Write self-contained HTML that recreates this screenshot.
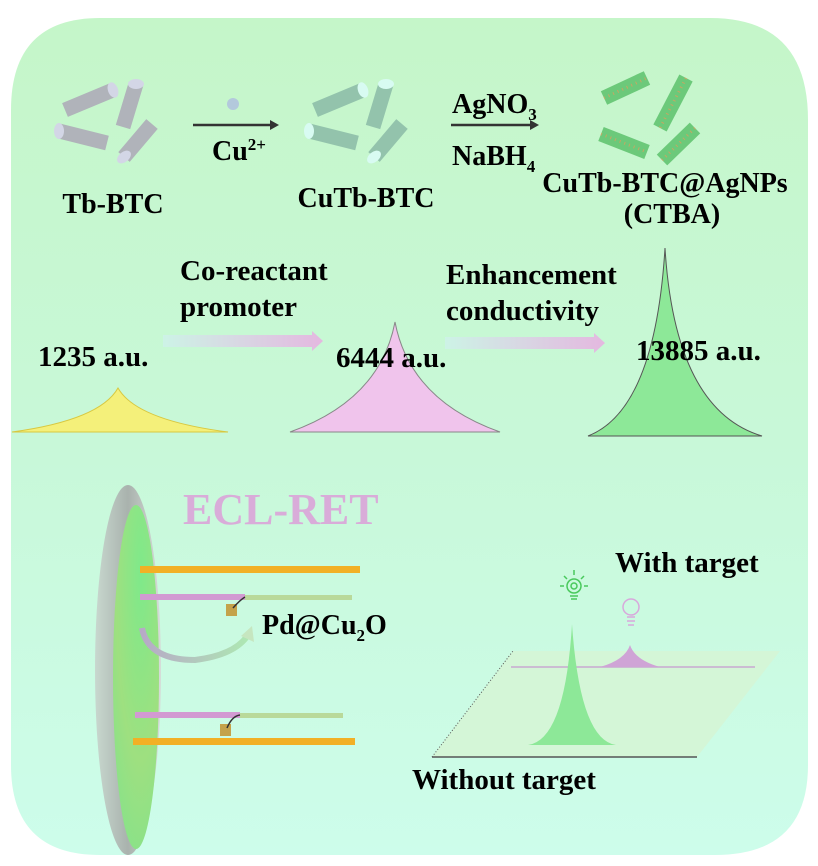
<!DOCTYPE html>
<html><head><meta charset="utf-8"><style>
html,body{margin:0;padding:0;background:#fff}
svg{display:block}
text{font-family:"Liberation Serif",serif;font-weight:bold;fill:#000}
</style></head><body>
<svg width="818" height="866" viewBox="0 0 818 866" xmlns="http://www.w3.org/2000/svg">
<defs>
<linearGradient id="bg" x1="0" y1="0" x2="0" y2="1"><stop offset="0" stop-color="#c5f6c9"/><stop offset="0.5" stop-color="#c8f8d8"/><stop offset="1" stop-color="#cdfdeb"/></linearGradient>
<linearGradient id="ar1" x1="0" x2="1"><stop offset="0" stop-color="#cdf3e6"/><stop offset="1" stop-color="#e4b8e0"/></linearGradient>
<linearGradient id="elec" x1="0" x2="1"><stop offset="0" stop-color="#c8d8cf"/><stop offset="0.5" stop-color="#a9b2ad"/><stop offset="1" stop-color="#d6dcd8"/></linearGradient>
<radialGradient id="disk" cx="0.6" cy="0.2" r="0.9"><stop offset="0" stop-color="#7fe98a"/><stop offset="0.6" stop-color="#9ee080"/><stop offset="1" stop-color="#86e28a"/></radialGradient>
<linearGradient id="curv" x1="0" x2="1"><stop offset="0" stop-color="#b7a9c7"/><stop offset="1" stop-color="#aee8b3"/></linearGradient>
</defs>
<path d="M100 18 H710 Q808 18 808 120 V765 Q808 855 715 855 H100 Q11 855 11 765 V110 Q11 18 100 18 Z" fill="url(#bg)"/>

<g stroke-linecap="butt">
<g stroke="#b0b3ba" stroke-width="15">
<line x1="65" y1="110" x2="113" y2="90"/><line x1="136" y1="84" x2="123" y2="127"/><line x1="59" y1="131" x2="107" y2="143"/><line x1="152" y1="124" x2="124" y2="157"/>
</g>
<g fill="#d3d6e6"><ellipse cx="113" cy="90" rx="5" ry="8" transform="rotate(-20 113 90)"/><ellipse cx="136" cy="84" rx="8" ry="5"/><ellipse cx="59" cy="131" rx="5" ry="8"/><ellipse cx="124" cy="157" rx="8" ry="5" transform="rotate(-40 124 157)"/></g>
<g stroke="#93c3ac" stroke-width="15">
<line x1="315" y1="110" x2="363" y2="90"/><line x1="386" y1="84" x2="373" y2="127"/><line x1="309" y1="131" x2="357" y2="143"/><line x1="402" y1="124" x2="374" y2="157"/>
</g>
<g fill="#d8fbf2"><ellipse cx="363" cy="90" rx="5" ry="8" transform="rotate(-20 363 90)"/><ellipse cx="386" cy="84" rx="8" ry="5"/><ellipse cx="309" cy="131" rx="5" ry="8"/><ellipse cx="374" cy="157" rx="8" ry="5" transform="rotate(-40 374 157)"/></g>
<g stroke="#6cc97a" stroke-width="15">
<line x1="604" y1="98" x2="647" y2="78"/><line x1="686" y1="78" x2="660" y2="128"/><line x1="601" y1="134" x2="647" y2="152"/><line x1="695" y1="128" x2="662" y2="160"/>
</g>
<g stroke="#d9a15e" stroke-width="3" stroke-dasharray="1 4" opacity="0.8">
<line x1="604" y1="98" x2="647" y2="78"/><line x1="686" y1="78" x2="660" y2="128"/><line x1="601" y1="134" x2="647" y2="152"/><line x1="695" y1="128" x2="662" y2="160"/>
</g>
</g>
<circle cx="233" cy="104" r="6" fill="#b3c9dc"/>
<line x1="193" y1="125" x2="270" y2="125" stroke="#333" stroke-width="2.5"/><path d="M270 120 L279 125 L270 130Z" fill="#333"/>
<line x1="451" y1="125" x2="530" y2="125" stroke="#333" stroke-width="2.5"/><path d="M530 120 L539 125 L530 130Z" fill="#333"/>
<text x="212" y="160" font-size="28">Cu<tspan font-size="17" dy="-10">2+</tspan></text>
<text x="452" y="113" font-size="28">AgNO<tspan font-size="17" dy="7">3</tspan></text>
<text x="452" y="165" font-size="28">NaBH<tspan font-size="17" dy="7">4</tspan></text>
<text x="113" y="213" font-size="28" text-anchor="middle">Tb-BTC</text>
<text x="366" y="207" font-size="28" text-anchor="middle">CuTb-BTC</text>
<text x="665" y="192" font-size="28" text-anchor="middle">CuTb-BTC@AgNPs</text>
<text x="672" y="223" font-size="28" text-anchor="middle">(CTBA)</text>

<path d="M12 432 Q100 420 118 388 Q136 420 228 432 Z" fill="#f4f07a" stroke="#d8c840" stroke-width="1"/>
<path d="M290 432 Q380 400 395 322 Q410 400 500 432 Z" fill="#f0c4ec" stroke="#888" stroke-width="1"/>
<path d="M588 436 Q655 410 665 248 Q675 410 762 436 Z" fill="#8de898" stroke="#555" stroke-width="1"/>
<text x="38" y="366" font-size="29">1235 a.u.</text>
<text x="336" y="367" font-size="29">6444 a.u.</text>
<text x="636" y="360" font-size="29">13885 a.u.</text>
<text x="180" y="280" font-size="29">Co-reactant</text>
<text x="180" y="316" font-size="29">promoter</text>
<text x="446" y="284" font-size="29">Enhancement</text>
<text x="446" y="320" font-size="29">conductivity</text>
<path d="M163 335 H312 V331 L323 341 L312 351 V347 H163Z" fill="url(#ar1)"/>
<path d="M445 337 H594 V333 L605 343 L594 353 V349 H445Z" fill="url(#ar1)"/>

<ellipse cx="128" cy="670" rx="33" ry="185" fill="url(#elec)"/>
<ellipse cx="136" cy="677" rx="23" ry="172" fill="url(#disk)"/>
<text x="183" y="524" font-size="44" style="fill:#d9acd9">ECL-RET</text>
<rect x="140" y="566" width="220" height="7" fill="#f2b025"/>
<rect x="140" y="594" width="105" height="6" fill="#d29ad2"/>
<rect x="245" y="595" width="107" height="5" fill="#b9d99a"/>
<rect x="226" y="604" width="11" height="12" fill="#c4a24a"/>
<path d="M233 608 Q240 600 245 597" stroke="#333" stroke-width="1.5" fill="none"/>
<text x="262" y="634" font-size="28">Pd@Cu<tspan font-size="17" dy="7">2</tspan><tspan dy="-7">O</tspan></text>
<path d="M142 628 Q148 660 195 660 Q235 655 248 635" stroke="url(#curv)" stroke-width="6" fill="none"/>
<path d="M241 636 L252 626 L254 642Z" fill="#c6e6c0"/>
<rect x="135" y="712" width="105" height="6" fill="#d29ad2"/>
<rect x="240" y="713" width="103" height="5" fill="#b9d99a"/>
<rect x="220" y="724" width="11" height="12" fill="#c4a24a"/>
<path d="M227 728 Q232 716 240 715" stroke="#333" stroke-width="1.5" fill="none"/>
<rect x="133" y="738" width="222" height="7" fill="#f2b025"/>

<path d="M432 757 L697 757 L780 651 L513 651 Z" fill="#d4f6d7"/>
<path d="M432 757 L513 651" stroke="#555" stroke-width="1" stroke-dasharray="1 2"/>
<line x1="432" y1="757" x2="697" y2="757" stroke="#555" stroke-width="1.5"/>
<line x1="511" y1="667" x2="755" y2="667" stroke="#c8a8d0" stroke-width="1.5"/>
<path d="M528 745 Q565 740 572 624 Q580 740 616 745Z" fill="#8de898"/>
<path d="M600 667 Q625 660 630 645 Q635 660 660 667Z" fill="#cfa4d6"/>
<g stroke="#49c95c" stroke-width="1.5" fill="none"><circle cx="574" cy="586" r="7"/><circle cx="574" cy="586" r="3"/><line x1="570" y1="596" x2="578" y2="596"/><line x1="571" y1="599" x2="577" y2="599"/><line x1="574" y1="570" x2="574" y2="575"/><line x1="560" y1="586" x2="564" y2="586"/><line x1="584" y1="586" x2="588" y2="586"/><line x1="564" y1="576" x2="567" y2="579"/><line x1="584" y1="576" x2="581" y2="579"/></g>
<g stroke="#d8a8dc" stroke-width="1.5" fill="none"><circle cx="631" cy="607" r="8"/><line x1="627" y1="617" x2="635" y2="617"/><line x1="627" y1="621" x2="635" y2="621"/><line x1="628" y1="625" x2="634" y2="625"/></g>
<text x="615" y="572" font-size="29">With target</text>
<text x="412" y="789" font-size="29">Without target</text>
</svg>
</body></html>
